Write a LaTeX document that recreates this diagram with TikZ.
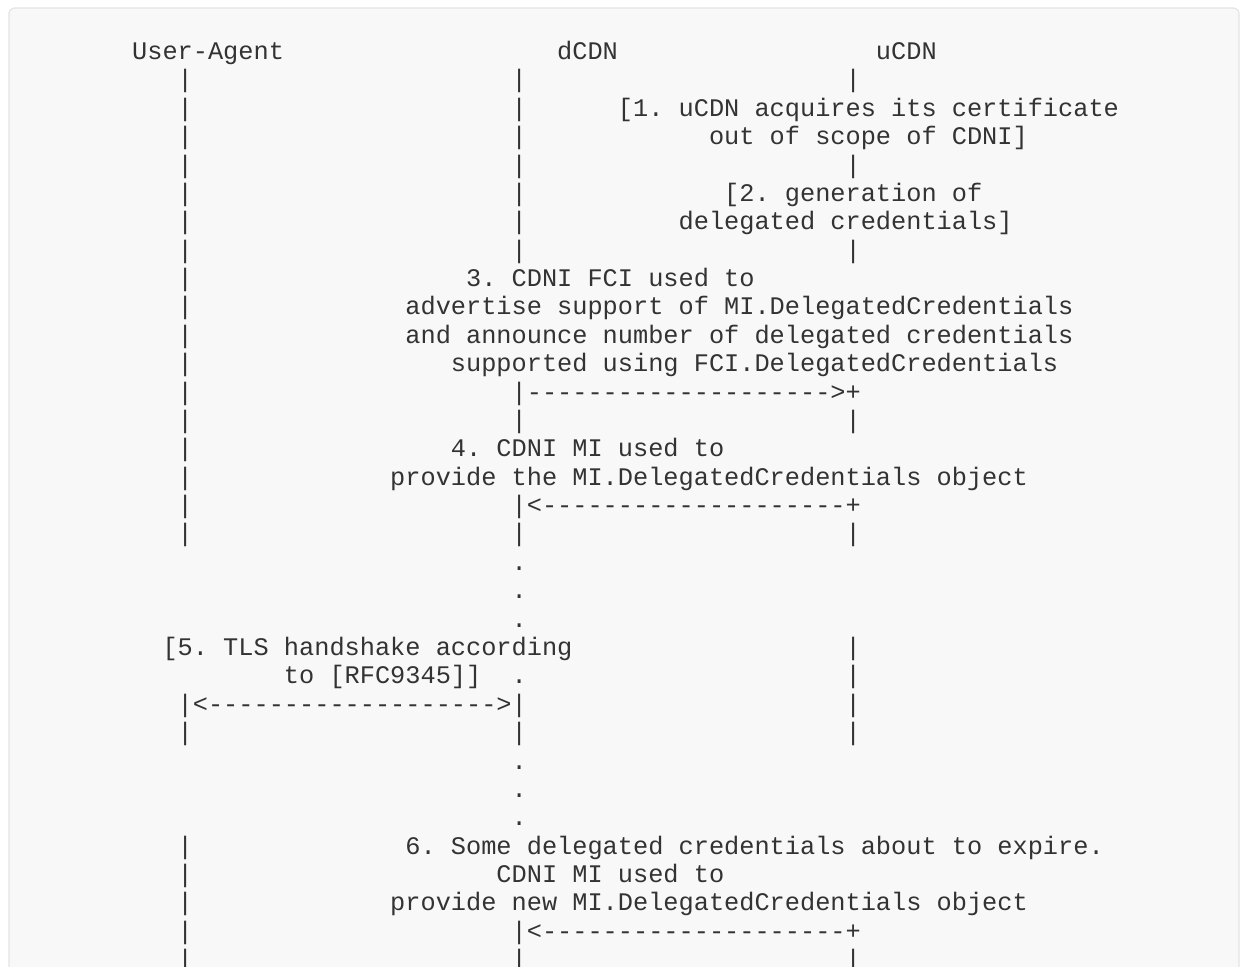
\documentclass[tikz,border=0pt]{standalone}
\usepackage{fontspec}
\setmonofont{Liberation Mono}
\definecolor{ink}{HTML}{333333}
\definecolor{panel}{HTML}{F8F8F8}
\definecolor{panelrule}{HTML}{E4E4E4}
\tikzset{
  txt/.style={anchor=base west, inner sep=0pt, outer sep=0pt, text=ink,
    font=\ttfamily\frenchspacing\fontsize{12.65pt}{15pt}\selectfont},
}
% character grid: left edge of column #1 and baseline of row #1
\newcommand\cx[1]{132.16+#1*15.18}
\newcommand\rowy[1]{59.5+(#1-1)*28.38}
\begin{document}
\begin{tikzpicture}[x=0.5pt,y=-0.5pt]
\useasboundingbox (0,0) rectangle (1242,967);
\fill[white] (0,0) rectangle (1242,967);
\filldraw[fill=panel,draw=panelrule,line width=0.6pt,rounded corners=3pt]
  (9,8) rectangle (1239,1012);

% participants
\node[txt] (ua)   at ({\cx{0}},{\rowy{1}})  {User-Agent};
\node[txt] (dcdn) at ({\cx{28}},{\rowy{1}}) {dCDN};
\node[txt] (ucdn) at ({\cx{49}},{\rowy{1}}) {uCDN};

% lifelines (columns 3, 25 and 47)
\foreach \r in {2,3,4,5,6,7,8,9,10,11,12,13,14,15,16,17,18,25,29,30,31,32,33}
  \node[txt,name=uabar\r] at ({\cx{3}},{\rowy{\r}}) {|};
\foreach \r in {2,3,4,5,6,7,8,14,18,25,33}
  \node[txt,name=dbar\r] at ({\cx{25}},{\rowy{\r}}) {|};
\foreach \r in {19,20,21,23,26,27,28}
  \node[txt,name=ddot\r] at ({\cx{25}},{\rowy{\r}}) {.};
\foreach \r in {2,5,8,14,18,22,23,24,25,33}
  \node[txt,name=ubar\r] at ({\cx{47}},{\rowy{\r}}) {|};

% steps 1 and 2
\node[txt] (s1a) at ({\cx{32}},{\rowy{3}}) {[1. uCDN acquires its certificate};
\node[txt] (s1b) at ({\cx{38}},{\rowy{4}}) {out of scope of CDNI]};
\node[txt] (s2a) at ({\cx{39}},{\rowy{6}}) {[2. generation of};
\node[txt] (s2b) at ({\cx{36}},{\rowy{7}}) {delegated credentials]};

% step 3
\node[txt] (s3a) at ({\cx{22}},{\rowy{9}})  {3. CDNI FCI used to};
\node[txt] (s3b) at ({\cx{18}},{\rowy{10}}) {advertise support of MI.DelegatedCredentials};
\node[txt] (s3c) at ({\cx{18}},{\rowy{11}}) {and announce number of delegated credentials};
\node[txt] (s3d) at ({\cx{21}},{\rowy{12}}) {supported using FCI.DelegatedCredentials};
\node[txt] (m3)  at ({\cx{25}},{\rowy{13}}) {|-------------------->+};

% step 4
\node[txt] (s4a) at ({\cx{21}},{\rowy{15}}) {4. CDNI MI used to};
\node[txt] (s4b) at ({\cx{17}},{\rowy{16}}) {provide the MI.DelegatedCredentials object};
\node[txt] (m4)  at ({\cx{25}},{\rowy{17}}) {|<--------------------+};

% step 5
\node[txt] (s5a) at ({\cx{2}},{\rowy{22}})  {[5. TLS handshake according};
\node[txt] (s5b) at ({\cx{10}},{\rowy{23}}) {to [RFC9345]]};
\node[txt] (m5)  at ({\cx{3}},{\rowy{24}})  {|<------------------->|};

% step 6
\node[txt] (s6a) at ({\cx{18}},{\rowy{29}}) {6. Some delegated credentials about to expire.};
\node[txt] (s6b) at ({\cx{24}},{\rowy{30}}) {CDNI MI used to};
\node[txt] (s6c) at ({\cx{17}},{\rowy{31}}) {provide new MI.DelegatedCredentials object};
\node[txt] (m6)  at ({\cx{25}},{\rowy{32}}) {|<--------------------+};
\end{tikzpicture}
\end{document}
